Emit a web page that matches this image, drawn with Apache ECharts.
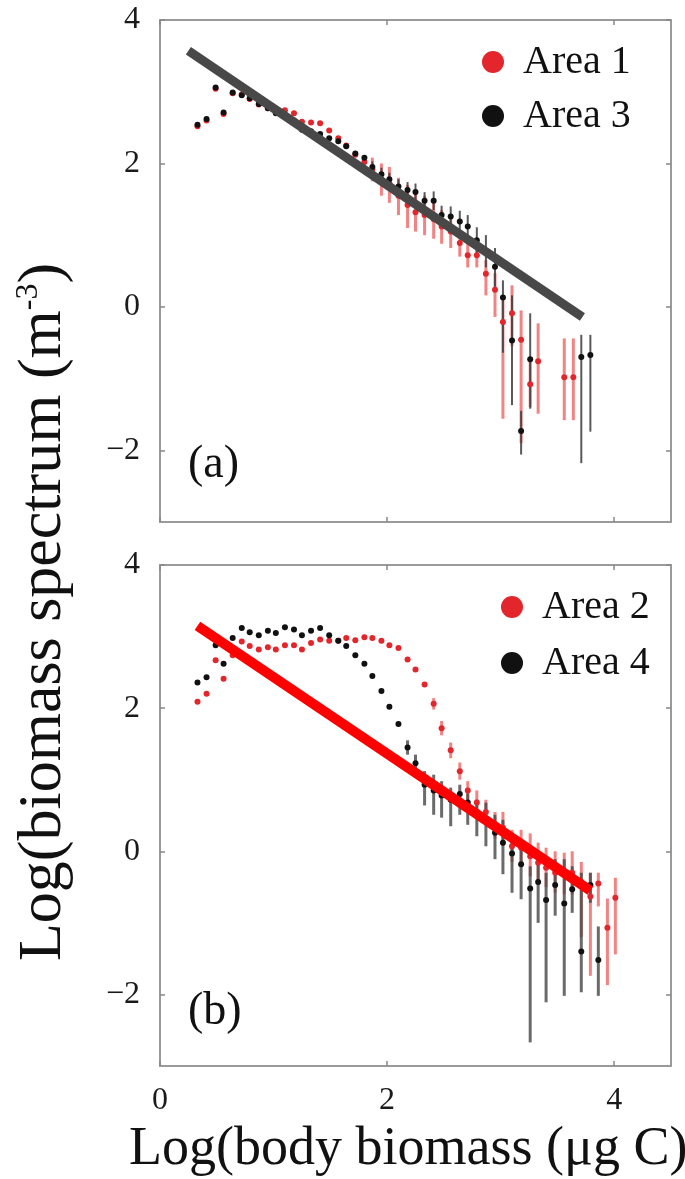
<!DOCTYPE html>
<html>
<head>
<meta charset="utf-8">
<script src="https://cdn.jsdelivr.net/npm/echarts@6/dist/echarts.min.js"></script>
<style>
html, body { margin: 0; padding: 0; background: #fff; }
#chart { width: 685px; height: 1179px; }
</style>
</head>
<body>
<div id="chart"></div>
<script>
// ---- data ----
var xTicks = [0, 2, 4];
var yTicks = [-2, 0, 2, 4];

// panel (a)
var area1X = [0.33,0.41,0.49,0.56,0.64,0.72,0.79,0.87,0.95,1.02,1.10,1.18,1.25,1.33,1.41,1.49,1.57,1.64,1.72,1.80,1.87,1.95,2.02,2.10,2.18,2.25,2.33,2.41,2.48,2.56,2.64,2.71,2.79,2.87,2.95,3.02,3.10,3.18,3.26,3.33,3.56,3.64];
var area1Y = [2.52,2.60,3.04,2.69,2.98,2.96,2.90,2.82,2.77,2.72,2.74,2.70,2.58,2.57,2.56,2.46,2.35,2.25,2.12,2.02,1.92,1.78,1.72,1.55,1.42,1.32,1.28,1.22,1.12,1.05,0.89,0.72,0.72,0.46,0.24,-0.21,-0.09,-0.46,-1.08,-0.76,-0.98,-0.98];
var area1Lo = [null,null,null,null,null,null,null,null,null,null,null,null,null,null,null,null,null,null,null,null,1.75,1.55,1.45,1.28,1.10,1.05,1.00,0.95,0.88,0.82,0.70,0.55,0.55,0.16,-0.14,-1.56,-0.55,-1.90,-1.40,-1.49,-1.58,-1.58];
var area1Hi = [null,null,null,null,null,null,null,null,null,null,null,null,null,null,null,null,null,null,null,null,2.08,2.00,1.95,1.80,1.70,1.58,1.55,1.50,1.35,1.28,1.05,0.90,0.88,0.65,0.47,0.14,0.30,-0.05,-0.75,-0.23,-0.44,-0.44];

var area3X = [0.33,0.41,0.49,0.56,0.64,0.72,0.79,0.87,0.95,1.02,1.10,1.18,1.25,1.33,1.41,1.49,1.57,1.64,1.72,1.80,1.87,1.95,2.02,2.10,2.18,2.25,2.33,2.41,2.48,2.56,2.64,2.71,2.79,2.87,2.95,3.02,3.10,3.18,3.26,3.71,3.79];
var area3Y = [2.54,2.62,3.06,2.71,2.99,2.95,2.91,2.83,2.77,2.70,2.66,2.60,2.47,2.45,2.41,2.35,2.31,2.24,2.14,2.08,1.95,1.85,1.78,1.68,1.63,1.60,1.48,1.48,1.28,1.26,1.19,1.12,0.93,0.78,0.56,0.13,-0.47,-1.73,-0.73,-0.70,-0.67];
var area3Lo = [null,null,null,null,null,null,null,null,null,null,null,null,null,null,null,null,null,null,null,null,1.87,1.76,1.69,1.58,1.52,1.48,1.36,1.35,1.15,1.12,1.04,0.96,0.75,0.55,0.28,-0.64,-1.37,-2.06,-1.42,-2.18,-1.74];
var area3Hi = [null,null,null,null,null,null,null,null,null,null,null,null,null,null,null,null,null,null,null,null,2.03,1.94,1.87,1.78,1.74,1.72,1.60,1.61,1.41,1.40,1.34,1.28,1.11,1.00,0.82,0.37,0.16,-1.45,-0.09,-0.39,-0.39];

var fitA = [[0.25, 3.57], [3.72, -0.14]];

// panel (b)
var area2X = [0.33,0.41,0.49,0.56,0.64,0.72,0.79,0.87,0.95,1.02,1.10,1.18,1.25,1.33,1.41,1.49,1.57,1.64,1.72,1.80,1.87,1.95,2.02,2.10,2.18,2.25,2.33,2.41,2.48,2.56,2.64,2.71,2.79,2.87,2.95,3.02,3.10,3.18,3.26,3.33,3.40,3.48,3.56,3.63,3.71,3.79,3.86,3.94,4.01];
var area2Y = [2.09,2.20,2.67,2.41,2.74,2.93,2.87,2.82,2.85,2.82,2.88,2.88,2.82,2.91,2.96,2.94,2.94,2.98,2.95,2.99,2.98,2.94,2.88,2.84,2.68,2.54,2.33,2.06,1.72,1.41,1.12,0.85,0.68,0.55,0.35,0.33,0.07,0.05,-0.07,-0.16,-0.23,-0.30,-0.31,-0.30,-0.43,-0.63,-0.45,-1.07,-0.65];
var area2Lo = [null,null,null,null,null,null,null,null,null,null,null,null,null,null,null,null,null,null,null,null,null,null,null,null,null,null,null,1.98,1.62,1.30,1.00,0.72,0.55,0.40,0.18,0.12,-0.15,-0.20,-0.35,-0.42,-0.50,-0.58,-0.60,-0.60,-1.20,-1.74,-0.77,-1.87,-1.44];
var area2Hi = [null,null,null,null,null,null,null,null,null,null,null,null,null,null,null,null,null,null,null,null,null,null,null,null,null,null,null,2.14,1.82,1.52,1.24,0.98,0.85,0.72,0.55,0.55,0.30,0.30,0.25,0.12,0.05,0.00,-0.02,0.00,-0.15,-0.30,-0.30,-0.66,-0.37];

var area4X = [0.33,0.41,0.49,0.56,0.64,0.72,0.79,0.87,0.95,1.02,1.10,1.18,1.25,1.33,1.41,1.49,1.57,1.64,1.72,1.80,1.87,1.95,2.02,2.10,2.18,2.25,2.33,2.41,2.48,2.56,2.64,2.71,2.79,2.87,2.95,3.02,3.10,3.18,3.26,3.33,3.40,3.48,3.56,3.63,3.71,3.79,3.86];
var area4Y = [2.36,2.43,2.88,2.62,2.98,3.12,3.06,3.02,3.08,3.05,3.13,3.10,3.02,3.08,3.12,3.02,2.94,2.87,2.74,2.62,2.45,2.24,2.02,1.78,1.45,1.23,0.93,0.85,0.78,0.72,0.80,0.68,0.55,0.44,0.26,0.12,-0.03,-0.18,-0.52,-0.43,-0.68,-0.47,-0.73,-0.53,-1.40,-0.47,-1.52];
var area4Lo = [null,null,null,null,null,null,null,null,null,null,null,null,null,null,null,null,null,null,null,null,null,null,null,null,1.35,1.10,0.64,0.51,0.47,0.35,0.51,0.37,0.21,0.07,-0.11,-0.32,-0.58,-0.67,-2.67,-1.00,-2.11,-0.90,-2.02,-0.86,-1.97,-0.72,-2.02];
var area4Hi = [null,null,null,null,null,null,null,null,null,null,null,null,null,null,null,null,null,null,null,null,null,null,null,null,1.55,1.35,1.12,1.07,0.98,0.89,0.93,0.81,0.72,0.68,0.51,0.44,0.26,0.16,-0.21,-0.11,-0.30,-0.11,-0.11,-0.21,-0.30,-0.30,-1.05];

var fitB = [[0.33, 3.15], [3.79, -0.55]];

// ---- helpers ----
var SERIF = 'Liberation Serif';

function pairs(xs, ys) {
  return xs.map(function (x, i) { return [x, ys[i]]; });
}

function errBars(xs, lo, hi, color, w, gi) {
  var d = [];
  xs.forEach(function (x, i) {
    if (lo[i] != null) d.push([x, lo[i], hi[i]]);
  });
  return {
    type: 'custom', silent: true, z: 2,
    xAxisIndex: gi * 2, yAxisIndex: gi * 2,
    data: d,
    encode: { x: 0, y: [1, 2] },
    renderItem: function (params, api) {
      var a = api.coord([api.value(0), api.value(1)]);
      var b = api.coord([api.value(0), api.value(2)]);
      return {
        type: 'line',
        shape: { x1: a[0], y1: a[1], x2: b[0], y2: b[1] },
        style: { stroke: color, lineWidth: w }
      };
    }
  };
}

function dots(name, xs, ys, color, gi) {
  return {
    name: name, type: 'scatter', z: 3,
    xAxisIndex: gi * 2, yAxisIndex: gi * 2,
    symbol: 'circle', symbolSize: 6,
    itemStyle: { color: color, opacity: 1 },
    data: pairs(xs, ys)
  };
}

function fitLine(pts, color, w, gi) {
  return {
    type: 'line', z: 5, silent: true,
    xAxisIndex: gi * 2, yAxisIndex: gi * 2,
    showSymbol: false, symbol: 'none',
    lineStyle: { color: color, width: w, cap: 'butt' },
    data: pts
  };
}

function xAx(gi, pos, showLab) {
  return {
    type: 'value', gridIndex: gi, position: pos, min: 0, max: 4.5,
    axisLine: { show: true, onZero: false, lineStyle: { color: '#9a9a9a', width: 2 } },
    axisTick: { show: true, inside: true, length: 5, customValues: xTicks, lineStyle: { color: '#888', width: 1.5 } },
    axisLabel: { show: showLab, customValues: xTicks, margin: 19, color: '#1a1a1a', fontSize: 32, fontFamily: SERIF },
    splitLine: { show: false }
  };
}

function yAx(gi, pos, showLab) {
  return {
    type: 'value', gridIndex: gi, position: pos, min: -3, max: 4,
    axisLine: { show: true, onZero: false, lineStyle: { color: '#9a9a9a', width: 2 } },
    axisTick: { show: true, inside: true, length: 5, customValues: yTicks, lineStyle: { color: '#888', width: 1.5 } },
    axisLabel: {
      show: showLab, customValues: yTicks, margin: 20, color: '#1a1a1a', fontSize: 32, fontFamily: SERIF,
      formatter: function (v) { return v < 0 ? '\u2212' + (-v) : String(v); }
    },
    splitLine: { show: false }
  };
}

var legendText = { fontFamily: SERIF, fontSize: 40, color: '#111', padding: [0, 0, 0, 14] };

var option = {
  animation: false,
  backgroundColor: '#fff',
  grid: [
    { left: 160, top: 20, width: 511, height: 502 },
    { left: 160, top: 565, width: 511, height: 501 }
  ],
  xAxis: [xAx(0, 'bottom', false), xAx(0, 'top', false), xAx(1, 'bottom', true), xAx(1, 'top', false)],
  yAxis: [yAx(0, 'left', true), yAx(0, 'right', false), yAx(1, 'left', true), yAx(1, 'right', false)],
  legend: [
    { data: ['Area 1', 'Area 3'], orient: 'vertical', left: 477, top: 37, icon: 'circle',
      itemWidth: 22, itemHeight: 22, itemGap: 14, selectedMode: false, textStyle: legendText },
    { data: ['Area 2', 'Area 4'], orient: 'vertical', left: 496, top: 582, icon: 'circle',
      itemWidth: 22, itemHeight: 22, itemGap: 16, selectedMode: false, textStyle: legendText }
  ],
  series: [
    errBars(area1X, area1Lo, area1Hi, 'rgba(238,90,90,0.75)', 3, 0),
    errBars(area3X, area3Lo, area3Hi, 'rgba(60,60,60,0.85)', 2, 0),
    dots('Area 1', area1X, area1Y, '#e3262b', 0),
    dots('Area 3', area3X, area3Y, '#111', 0),
    fitLine(fitA, '#484848', 9, 0),

    errBars(area2X, area2Lo, area2Hi, 'rgba(238,90,90,0.75)', 3, 1),
    errBars(area4X, area4Lo, area4Hi, 'rgba(70,70,70,0.8)', 3, 1),
    dots('Area 2', area2X, area2Y, '#e3262b', 1),
    dots('Area 4', area4X, area4Y, '#111', 1),
    fitLine(fitB, '#ff0000', 10, 1)
  ],
  graphic: [
    { type: 'text', left: 188, top: 442, style: { text: '(a)', font: '46px "Liberation Serif"', fill: '#111' } },
    { type: 'text', left: 188, top: 989, style: { text: '(b)', font: '46px "Liberation Serif"', fill: '#111' } },
    { type: 'text', x: 129, y: 1150, style: { text: 'Log(body biomass (\u03bcg C)', font: '54px "Liberation Serif"',
      fill: '#111', verticalAlign: 'middle', align: 'left' } },
    { type: 'text', x: 44, y: 612, rotation: Math.PI / 2,
      style: {
        text: 'Log(biomass spectrum (m{sup|-3})', font: '62px "Liberation Serif"', fill: '#111',
        align: 'center', verticalAlign: 'middle',
        rich: { sup: { fontSize: 32, fontFamily: SERIF, verticalAlign: 'top', padding: [0, 0, 26, 0] } }
      } }
  ]
};

var myChart = echarts.init(document.getElementById('chart'));
myChart.setOption(option);
</script>
</body>
</html>
